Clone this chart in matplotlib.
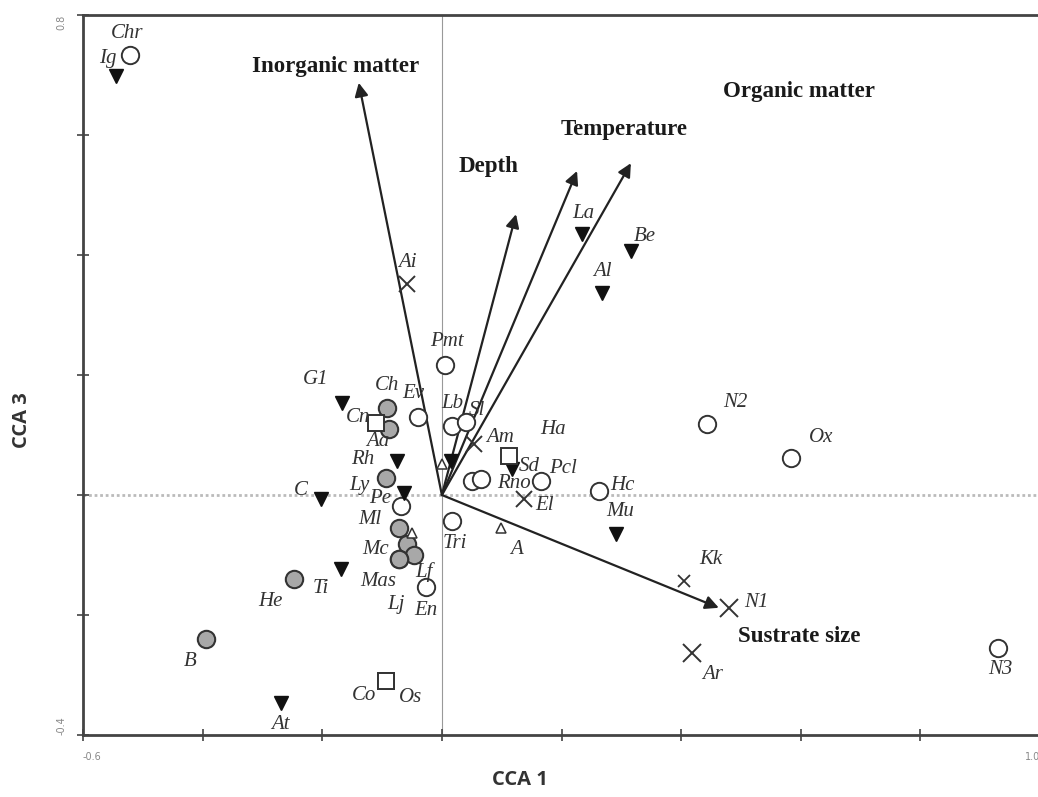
import matplotlib
matplotlib.use("Agg")
import matplotlib.pyplot as plt

# ---- species scores (CCA 1, CCA 3) ----
open_names = ["Chr", "Pmt", "Ev", "Lb", "Sl", "", "Rno", "Pcl", "Hc", "Tri", "Pe", "En", "N2", "Ox", "N3"]
open_x = [-0.521, 0.005, -0.040, 0.017, 0.040, 0.050, 0.065, 0.165, 0.262, 0.017, -0.069, -0.027, 0.443, 0.583, 0.929]
open_y = [0.733, 0.217, 0.130, 0.115, 0.122, 0.023, 0.027, 0.023, 0.007, -0.043, -0.018, -0.153, 0.118, 0.062, -0.255]

gray_names = ["Ch", "Aa", "Ly", "Ml", "Mc", "Lf", "Mas", "Lj", "He", "B"]
gray_x = [-0.092, -0.089, -0.094, -0.072, -0.058, -0.047, -0.072, -0.072, -0.247, -0.394]
gray_y = [0.145, 0.110, 0.028, -0.055, -0.082, -0.100, -0.107, -0.107, -0.140, -0.240]

tri_names = ["Ig", "G1", "Rh", "", "C", "Ti", "At", "", "Sd", "La", "Be", "Al", "Mu"]
tri_x = [-0.545, -0.167, -0.075, -0.063, -0.202, -0.169, -0.269, 0.015, 0.117, 0.234, 0.316, 0.267, 0.291]
tri_y = [0.698, 0.153, 0.057, 0.003, -0.007, -0.123, -0.347, 0.057, 0.043, 0.435, 0.407, 0.337, -0.065]

sq_names = ["Cn", "Ha", "Co", "Os"]
sq_x = [-0.110, 0.112, -0.094, -0.094]
sq_y = [0.120, 0.065, -0.310, -0.310]

cross_names = ["Ai", "Am", "El", "Kk", "N1", "Ar"]
cross_x = [-0.058, 0.053, 0.137, 0.404, 0.480, 0.418]
cross_y = [0.352, 0.085, -0.007, -0.143, -0.188, -0.263]

up_names = ["A", "", ""]
up_x = [0.099, -0.050, 0.000]
up_y = [-0.055, -0.063, 0.052]

# ---- environmental vectors ----
env_names = ["Inorganic matter", "Depth", "Temperature", "Organic matter", "Sustrate size"]
env_x = [-0.139, 0.124, 0.226, 0.316, 0.463]
env_y = [0.687, 0.468, 0.540, 0.553, -0.188]

# label offsets in pixels (dx, dy)
lab_off = {
    "Chr": (-3, 22), "Pmt": (2, 23), "Ev": (-5, 23), "Lb": (0, 23), "Sl": (11, 11),
    "Rno": (33, -5), "Pcl": (22, 13), "Hc": (24, 5), "Tri": (3, -23), "Pe": (-20, 7),
    "En": (0, -24), "N2": (28, 22), "Ox": (31, 20), "N3": (3, -22),
    "Ch": (0, 22), "Aa": (-11, -13), "Ly": (-26, -7), "Ml": (-29, 9), "Mc": (-32, -5),
    "Lf": (10, -17), "Mas": (-21, -22), "Lj": (-3, -45), "He": (-24, -22), "B": (-16, -22),
    "Ig": (-8, 18), "G1": (-26, 24), "Rh": (-34, 1), "C": (-20, 9), "Ti": (-20, -20),
    "At": (-1, -21), "Sd": (17, 3), "La": (1, 21), "Be": (14, 14), "Al": (1, 21), "Mu": (4, 22),
    "Cn": (-18, 6), "Ha": (44, 26), "Co": (-22, -15), "Os": (25, -17),
    "Ai": (0, 21), "Am": (27, 6), "El": (21, -6), "Kk": (27, 21), "N1": (27, 5), "Ar": (21, -22),
    "A": (15, -22),
}
env_off = {
    "Inorganic matter": (-23, 16), "Depth": (-28, 48), "Temperature": (47, 42),
    "Organic matter": (168, 72), "Sustrate size": (80, -29),
}

fig = plt.figure(figsize=(10.38, 7.97), dpi=100)
ax = fig.add_axes([83 / 1038, 62 / 797, 957 / 1038, 720 / 797])

ax.set_xlim(-0.6, 1.0)
ax.set_ylim(-0.4, 0.8)

ax.axvline(0, color="#999999", lw=0.8, zorder=0)
ax.axhline(0, color="#bbbbbb", lw=2, ls=(0, (1, 1)), zorder=0)

for tx, ty in zip(env_x, env_y):
    ax.annotate("", xy=(tx, ty), xytext=(0, 0),
                arrowprops=dict(arrowstyle="-|>", color="#222222", lw=1.6,
                                mutation_scale=20, shrinkA=0, shrinkB=0), zorder=2)

edge = "#333333"
ax.plot(open_x, open_y, "o", ms=12.5, mfc="white", mec=edge, mew=1.4, ls="none", zorder=3)
ax.plot(gray_x, gray_y, "o", ms=12.5, mfc="#a8a8a8", mec=edge, mew=1.5, ls="none", zorder=3)
ax.plot(tri_x, tri_y, "v", ms=10.5, mfc="#111111", mec="#111111", ls="none", zorder=3)
ax.plot(sq_x, sq_y, "s", ms=12, mfc="white", mec=edge, mew=1.4, ls="none", zorder=3)
ax.plot(cross_x[:3], cross_y[:3], "x", ms=12, mec=edge, mew=1.4, ls="none", zorder=3)
ax.plot(cross_x[3:4], cross_y[3:4], "x", ms=8, mec=edge, mew=1.3, ls="none", zorder=3)
ax.plot(cross_x[4:], cross_y[4:], "x", ms=13, mec=edge, mew=1.4, ls="none", zorder=3)
ax.plot(up_x, up_y, "^", ms=7.5, mfc="white", mec=edge, mew=1.1, ls="none", zorder=3)

lab_font = dict(family="Liberation Serif", style="italic", fontsize=15, color="#333333")
groups = [(open_names, open_x, open_y), (gray_names, gray_x, gray_y), (tri_names, tri_x, tri_y),
          (sq_names, sq_x, sq_y), (cross_names, cross_x, cross_y), (up_names, up_x, up_y)]
for names, xs, ys in groups:
    for n, x, y in zip(names, xs, ys):
        if not n:
            continue
        dx, dy = lab_off[n]
        ax.annotate(n, (x, y), xytext=(dx, dy), textcoords="offset pixels",
                    ha="center", va="center", zorder=4, **lab_font)

for n, x, y in zip(env_names, env_x, env_y):
    dx, dy = env_off[n]
    ax.annotate(n, (x, y), xytext=(dx, dy), textcoords="offset pixels", ha="center", va="center",
                family="Liberation Serif", fontweight="bold", fontsize=16.5, color="#1a1a1a", zorder=4)

# axes styling
for s in ["left", "bottom", "top"]:
    ax.spines[s].set_color("#444444")
    ax.spines[s].set_linewidth(2)
ax.spines["right"].set_visible(False)

xt = [-0.6, -0.4, -0.2, 0.0, 0.2, 0.4, 0.6, 0.8, 1.0]
yt = [-0.4, -0.2, 0.0, 0.2, 0.4, 0.6, 0.8]
ax.set_xticks(xt, ["-0.6"] + [""] * 7 + ["1.0"])
ax.set_yticks(yt, ["-0.4"] + [""] * 5 + ["0.8"])
ax.tick_params(direction="inout", length=8, width=1.2, color="#444444", labelsize=7, labelcolor="#888888")
ax.tick_params(axis="y", pad=8)
ax.tick_params(axis="x", pad=8)
for lbl in ax.get_yticklabels():
    lbl.set_rotation(90)
ylabs = ax.get_yticklabels()
ylabs[0].set_va("bottom")
ylabs[-1].set_va("top")
xlabs = ax.get_xticklabels()
xlabs[0].set_ha("left")
xlabs[-1].set_ha("right")

fig.text(520 / 1038, 1 - 780 / 797, "CCA 1", ha="center", va="center",
         family="Open Sans", fontweight="bold", fontsize=14.5, color="#333333")
fig.text(22 / 1038, 1 - 420 / 797, "CCA 3", ha="center", va="center", rotation=90,
         family="Open Sans", fontweight="bold", fontsize=14.5, color="#333333")

fig.savefig("out.png", dpi=100)
